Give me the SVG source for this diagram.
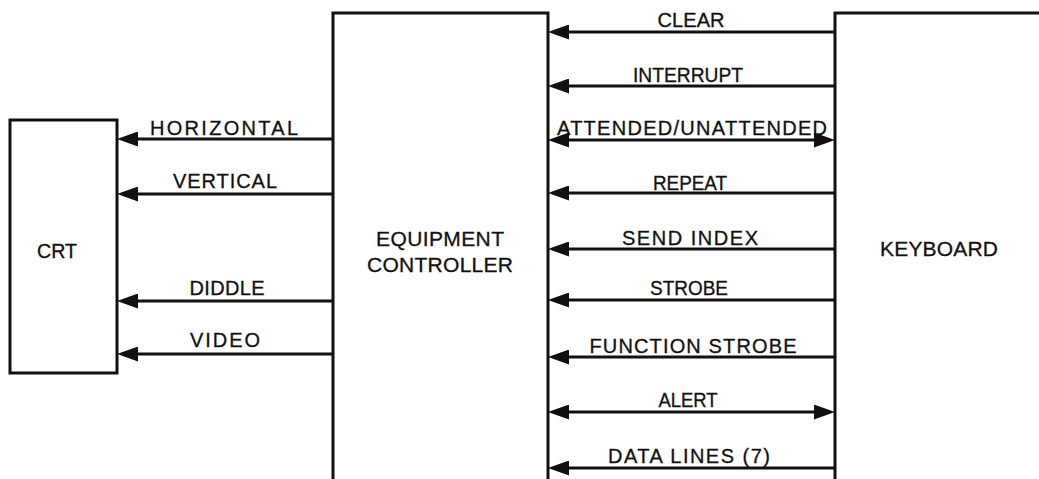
<svg xmlns="http://www.w3.org/2000/svg" width="1039" height="479" viewBox="0 0 1039 479">
<style>
.box{fill:none;stroke:#111;stroke-width:3;stroke-linejoin:miter}
.w{stroke:#111;stroke-width:3;fill:none}
.one{marker-end:url(#ah)}
.two{marker-start:url(#ah);marker-end:url(#ah)}
text{font-family:"Liberation Sans",Arial,sans-serif;fill:#111;stroke:#111;stroke-width:0.3;font-size:20px;text-anchor:middle}
.big{font-size:21px}
</style>
<defs>
<marker id="ah" markerUnits="userSpaceOnUse" markerWidth="21" markerHeight="15" refX="15" refY="7.5" orient="auto-start-reverse" viewBox="0 0 21 15">
<path d="M0,0 L21,7.5 L0,15 Z" fill="#111"/>
</marker>
</defs>
<rect width="1039" height="479" fill="#fff"/>
<g id="crt">
<rect class="box" x="10" y="120" width="107" height="253"/>
<text class="big" x="57" y="258" textLength="40" lengthAdjust="spacingAndGlyphs">CRT</text>
</g>
<g id="controller">
<path class="box" d="M333,479 V13 H548 V479"/>
<text class="big" x="440" y="246" textLength="128">EQUIPMENT</text>
<text class="big" x="440" y="272" textLength="146">CONTROLLER</text>
</g>
<g id="keyboard">
<path class="box" d="M835,479 V13 H1039"/>
<text class="big" x="939" y="256" textLength="118">KEYBOARD</text>
</g>
<g id="connectors">
<line class="w one" x1="333" y1="139" x2="123" y2="139"/>
<line class="w one" x1="333" y1="194" x2="123" y2="194"/>
<line class="w one" x1="333" y1="301" x2="123" y2="301"/>
<line class="w one" x1="333" y1="354" x2="123" y2="354"/>
<line class="w one" x1="835" y1="32" x2="554" y2="32"/>
<line class="w one" x1="835" y1="86" x2="554" y2="86"/>
<line class="w two" x1="829" y1="140" x2="554" y2="140"/>
<line class="w one" x1="835" y1="193" x2="554" y2="193"/>
<line class="w one" x1="835" y1="249" x2="554" y2="249"/>
<line class="w one" x1="835" y1="300" x2="554" y2="300"/>
<line class="w one" x1="835" y1="357" x2="554" y2="357"/>
<line class="w two" x1="829" y1="412" x2="554" y2="412"/>
<line class="w one" x1="835" y1="468" x2="554" y2="468"/>
<text x="224" y="135" textLength="148">HORIZONTAL</text>
<text x="225" y="188" textLength="104">VERTICAL</text>
<text x="227" y="295" textLength="75">DIDDLE</text>
<text x="225" y="347" textLength="70">VIDEO</text>
<text x="691" y="27" textLength="67">CLEAR</text>
<text x="688" y="82" textLength="110" lengthAdjust="spacingAndGlyphs">INTERRUPT</text>
<text x="692" y="135" textLength="270">ATTENDED/UNATTENDED</text>
<text x="690" y="190" textLength="74" lengthAdjust="spacingAndGlyphs">REPEAT</text>
<text x="690" y="245" textLength="136">SEND INDEX</text>
<text x="689" y="295" textLength="78" lengthAdjust="spacingAndGlyphs">STROBE</text>
<text x="693" y="353" textLength="207">FUNCTION STROBE</text>
<text x="688" y="407" textLength="59" lengthAdjust="spacingAndGlyphs">ALERT</text>
<text x="689" y="463" textLength="162">DATA LINES (7)</text>
</g>
</svg>
